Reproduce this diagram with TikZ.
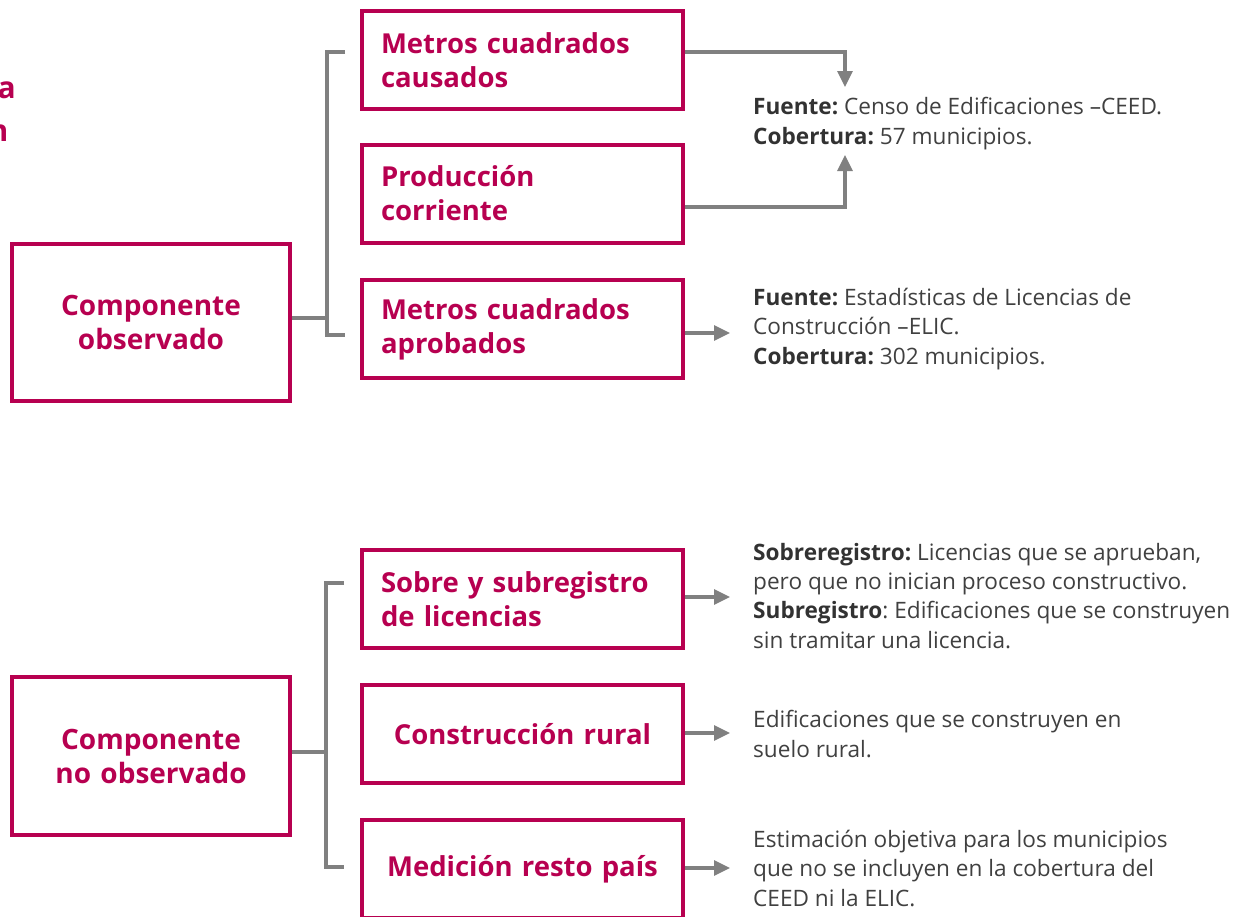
\documentclass[tikz,border=0pt]{standalone}
\usepackage{fontspec}
\setmainfont{Open Sans}
\usetikzlibrary{arrows.meta}
\definecolor{mag}{RGB}{183,0,80}
\definecolor{conn}{RGB}{128,128,128}
\definecolor{txt}{RGB}{64,64,64}
\definecolor{txtb}{RGB}{50,50,50}
\newcommand{\lbl}[1]{{\bfseries\color{txtb}#1}}
\frenchspacing
\begin{document}
\begin{tikzpicture}[x=1pt,y=-1pt,
  box/.style={draw=mag, line width=4pt, text=mag, font=\fontsize{27.5}{34}\selectfont\bfseries,
    minimum width=321pt, minimum height=98pt, inner xsep=19pt, inner ysep=0pt, text width=283pt, align=left},
  cbox/.style={box, align=center},
  lbox/.style={draw=mag, line width=4pt, text=mag, font=\fontsize{28}{34}\selectfont\bfseries,
    minimum width=278pt, minimum height=157pt, inner xsep=14pt, text width=250pt, align=center},
  conn/.style={draw=conn, line width=3.2pt},
  arr/.style={conn, -{Triangle[length=16pt,width=15pt]}},
  note/.style={anchor=base west, inner sep=0pt, text=txt, align=left, font=\fontsize{22.6}{29.2}\selectfont\frenchspacing},
  ttl/.style={anchor=base east, inner sep=0pt, text=mag, font=\fontsize{30}{38}\selectfont\bfseries}
]
\useasboundingbox (0,0) rectangle (1234,916);

% cut-off title
\node[ttl] (ta) at (16,98) {a};
\node[ttl] (tn) at (8.5,141) {n};

% observed component
\node[lbox] (L1) at (151,322.5) {Componente\\observado};
\node[box] (A) at (522.5,60) {Metros cuadrados\\causados};
\node[box] (B) at (522.5,193.5) {Producción\\corriente};
\node[box] (C) at (522.5,329) {Metros cuadrados\\aprobados};

\coordinate (bt1) at (327,52);
\coordinate (bb1) at (327,335);
\coordinate (ht1) at (345,52);
\coordinate (hb1) at (345,335);
\draw[conn] (ht1) -- (bt1) -- (bb1) -- (hb1);
\draw[conn] ([yshift=4.5pt]L1.east) -- ([yshift=4.5pt]L1.east -| bt1);

\node[note] (nA) at (753,144) {\lbl{Fuente:} Censo de Edificaciones –CEED.\\\lbl{Cobertura:} 57 municipios.};
\coordinate (cA) at (845,52);
\coordinate (tA) at (845,87);
\coordinate (cB) at (845,207);
\coordinate (tB) at (845,155);
\draw[arr] ([yshift=8pt]A.east) -- (cA) -- (tA);
\draw[arr] ([yshift=-13.5pt]B.east) -- (cB) -- (tB);

\node[note] (nC) at (753,364) {\lbl{Fuente:} Estadísticas de Licencias de\\Construcción –ELIC.\\\lbl{Cobertura:} 302 municipios.};
\coordinate (tC) at (730,333);
\draw[arr] (C.east |- tC) -- (tC);

% non-observed component
\node[lbox, minimum height=158pt] (L2) at (151,756) {Componente\\no observado};
\node[box] (D) at (522.5,599) {Sobre y subregistro\\de licencias};
\node[cbox] (E) at (522.5,734) {Construcción rural};
\node[cbox] (F) at (522.5,869) {Medición resto país};

\coordinate (bt2) at (326,583);
\coordinate (bb2) at (326,867);
\coordinate (ht2) at (344,583);
\coordinate (hb2) at (344,867);
\draw[conn] (ht2) -- (bt2) -- (bb2) -- (hb2);
\draw[conn] ([yshift=4pt]L2.east) -- ([yshift=4pt]L2.east -| bt2);

\node[note] (nD) at (753,648) {\lbl{Sobreregistro:} Licencias que se aprueban,\\pero que no inician proceso constructivo.\\\lbl{Subregistro}: Edificaciones que se construyen\\sin tramitar una licencia.};
\node[note] (nE) at (753,757) {Edificaciones que se construyen en\\suelo rural.};
\node[note] (nF) at (753,906) {Estimación objetiva para los municipios\\que no se incluyen en la cobertura del\\CEED ni la ELIC.};

\coordinate (tD) at (730,597);
\coordinate (tE) at (730,733);
\coordinate (tF) at (730,868);
\draw[arr] (D.east |- tD) -- (tD);
\draw[arr] (E.east |- tE) -- (tE);
\draw[arr] (F.east |- tF) -- (tF);
\end{tikzpicture}
\end{document}
